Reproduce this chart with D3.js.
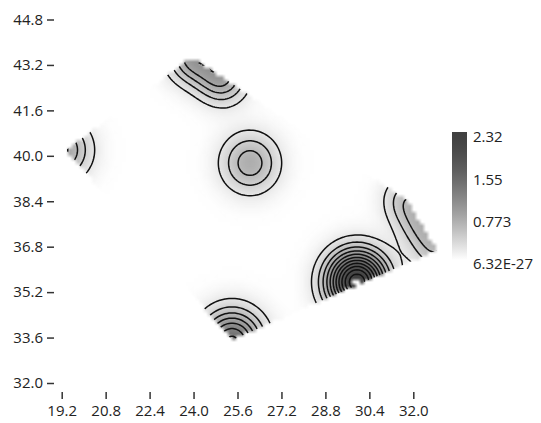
<!DOCTYPE html>
<html><head><meta charset="utf-8">
<script src="https://cdn.jsdelivr.net/npm/d3@7"></script>
<style>
html,body{margin:0;padding:0;background:#fff;}
svg{display:block;}
text{font-family:"Open Sans",sans-serif;}
</style></head><body>
<svg id="chart" width="541" height="423"></svg>
<script>
// ---------- data ----------
const xTicks = [19.2, 20.8, 22.4, 24.0, 25.6, 27.2, 28.8, 30.4, 32.0];
const yTicks = [32.0, 33.6, 35.2, 36.8, 38.4, 40.0, 41.6, 43.2, 44.8];
// sources of the interpolated field (lon, lat, peak value, spread in degrees)
const sourceLon    = [19.175, 23.943, 25.035, 26.055, 31.770, 32.316, 32.862, 29.950, 25.399];
const sourceLat    = [40.204, 43.479, 42.775, 39.746, 38.444, 37.563, 36.683, 35.556, 33.444];
const sourceAmp    = [0.85,   0.85,   0.85,   0.72,   0.50,   0.50,   0.50,   2.36,   1.45];
const sourceSpread = [0.72,   0.63,   0.63,   0.72,   0.60,   0.60,   0.60,   0.745,  0.77];
// convex hull of the data region
const hullLon = [19.357, 23.943, 31.770, 32.862, 25.399];
const hullLat = [40.204, 43.479, 38.444, 36.683, 33.514];
const contourLevels = [0.2, 0.4, 0.6, 0.8, 1.0, 1.2, 1.4, 1.6, 1.8, 2.0, 2.2];
const legendMin = 6.32e-27, legendMax = 2.32;
const legendValues = [2.32, 1.547, 0.773, 6.32e-27];
const legendLabels = ["2.32", "1.55", "0.773", "6.32E-27"];

// ---------- setup ----------
const W = 541, H = 423;
const svg = d3.select("#chart");
const x = d3.scaleLinear().domain([19.2, 32.0]).range([61.7, 413.3]);
const y = d3.scaleLinear().domain([32.0, 44.8]).range([383, 19.5]);

const toT = d3.scaleLinear().domain([legendMin, legendMax]).range([0, 1]).clamp(true);
const shade = t => 1 - Math.pow(1 - t, 1.5);   // 0 = white, 1 = darkest
const darkest = 64;
const grayFn = t => {
  const g = Math.round(255 - (255 - darkest) * shade(t));
  return [g, g, g];
};

function field(lon, lat) {
  let v = 0;
  for (let k = 0; k < sourceLon.length; k++) {
    const dx = lon - sourceLon[k], dy = lat - sourceLat[k];
    const s = sourceSpread[k];
    v += sourceAmp[k] * Math.exp(-(dx * dx + dy * dy) / (2 * s * s));
  }
  return v;
}

const hullPx = hullLon.map((d, i) => [x(d), y(hullLat[i])]);

// ---------- raster (drawn as dark ink with opacity so zero stays pure white) ----------
const cell = 4;
const nx = Math.ceil(W / cell), ny = Math.ceil(H / cell);
const cv = document.createElement("canvas");
cv.width = nx; cv.height = ny;
const ctx = cv.getContext("2d");
const img = ctx.createImageData(nx, ny);
for (let j = 0; j < ny; j++) {
  for (let i = 0; i < nx; i++) {
    const px = (i + 0.5) * cell, py = (j + 0.5) * cell;
    const idx = (j * nx + i) * 4;
    img.data[idx + 3] = 0;
    if (!d3.polygonContains(hullPx, [px, py])) continue;
    const v = field(x.invert(px), y.invert(py));
    if (v > legendMax) continue;           // overflow shows as white
    const a = shade(toT(v));
    img.data[idx] = darkest; img.data[idx + 1] = darkest; img.data[idx + 2] = darkest;
    img.data[idx + 3] = Math.round(255 * a);
  }
}
ctx.putImageData(img, 0, 0);
svg.append("image")
  .attr("x", 0).attr("y", 0).attr("width", nx * cell).attr("height", ny * cell)
  .attr("preserveAspectRatio", "none")
  .attr("href", cv.toDataURL());

// ---------- contours ----------
const cc = 2;
const cnx = Math.ceil(W / cc), cny = Math.ceil(H / cc);
const vals = new Float64Array(cnx * cny);
for (let j = 0; j < cny; j++)
  for (let i = 0; i < cnx; i++)
    vals[j * cnx + i] = field(x.invert((i + 0.5) * cc), y.invert((j + 0.5) * cc));
const contours = d3.contours().size([cnx, cny]).thresholds(contourLevels)(vals);

svg.append("clipPath").attr("id", "hullClip")
  .append("path").attr("d", "M" + hullPx.map(p => p.join(",")).join("L") + "Z");

svg.append("g").attr("clip-path", "url(#hullClip)")
  .selectAll("path").data(contours).join("path")
  .attr("d", d3.geoPath(d3.geoIdentity().scale(cc)))
  .attr("fill", "none").attr("stroke", "#111").attr("stroke-width", 1.5);

// ---------- axes ----------
const fmt = d3.format(".1f");
const gy = svg.append("g").attr("transform", "translate(54,0)")
  .call(d3.axisLeft(y).tickValues(yTicks).tickFormat(fmt).tickSize(7).tickPadding(4));
const gx = svg.append("g").attr("transform", "translate(0,392)")
  .call(d3.axisBottom(x).tickValues(xTicks).tickFormat(fmt).tickSize(7).tickPadding(6));
[gx, gy].forEach(g => {
  g.select(".domain").remove();
  g.selectAll(".tick line").attr("stroke", "#333").attr("stroke-width", 1.5);
  g.selectAll(".tick text").attr("fill", "#222").style("font-size", "15px").style("font-family", "'Open Sans', sans-serif");
});

// ---------- legend ----------
const lg = svg.append("defs").append("linearGradient").attr("id", "lgrad")
  .attr("x1", 0).attr("y1", 0).attr("x2", 0).attr("y2", 1);
d3.range(0, 1.0001, 0.05).forEach(t => {
  const c = grayFn(1 - t);
  lg.append("stop").attr("offset", t).attr("stop-color", `rgb(${c[0]},${c[1]},${c[2]})`);
});
svg.append("rect").attr("x", 452).attr("y", 132).attr("width", 15).attr("height", 128)
  .attr("fill", "url(#lgrad)");
const ly = d3.scaleLinear().domain([legendMin, legendMax]).range([264, 137]);
svg.append("g").selectAll("text").data(legendValues).join("text")
  .attr("x", 473).attr("y", d => ly(d)).attr("dy", "0.35em")
  .attr("fill", "#222").style("font-size", "15px")
  .text((d, i) => legendLabels[i]);
</script>
</body></html>
